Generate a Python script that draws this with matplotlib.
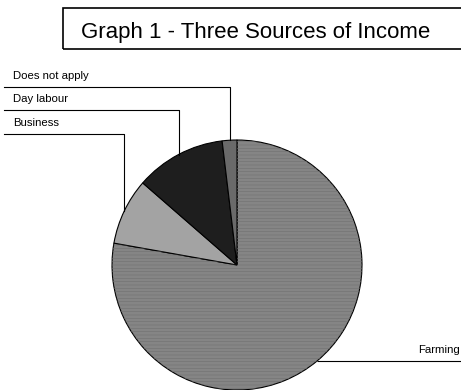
import numpy as np
import matplotlib
matplotlib.use("Agg")
import matplotlib.pyplot as plt
from matplotlib.patches import Rectangle

plt.rcParams['font.family'] = ['Liberation Sans', 'DejaVu Sans']
plt.rcParams['hatch.linewidth'] = 0.4

# pie data (percent)
sources = ['Farming', 'Business', 'Day labour', 'Does not apply']
shares = [77.8, 8.6, 11.7, 1.9]
colors = ['#858585', '#a3a3a3', '#1e1e1e', '#6a6a6a']
title = 'Graph 1 - Three Sources of Income'

W, H = 461, 390
fig = plt.figure(figsize=(W / 100, H / 100), dpi=100)
ax = fig.add_axes([0, 0, 1, 1])

cx, cy, r = 237, H - 265, 125
wedges, _ = ax.pie(shares, colors=colors, startangle=90, counterclock=False,
                   radius=r, center=(cx, cy), frame=True,
                   wedgeprops=dict(edgecolor='black', linewidth=0.8))

# faint horizontal texture on the farming slice only
tex, _ = ax.pie([shares[0], 100 - shares[0]], colors=['none', 'none'],
                startangle=90, counterclock=False, radius=r, center=(cx, cy),
                frame=True,
                wedgeprops=dict(edgecolor='#707070', linewidth=0, hatch='-----'))
tex[1].set_visible(False)

ax.set_xlim(0, W)
ax.set_ylim(0, H)
ax.set_aspect('equal')
ax.axis('off')

# leader lines + labels
label_y = {'Does not apply': H - 87, 'Day labour': H - 110, 'Business': H - 134}
for w, name in zip(wedges, sources):
    mid = np.deg2rad((w.theta1 + w.theta2) / 2)
    px, py = cx + r * np.cos(mid), cy + r * np.sin(mid)
    if name == 'Farming':
        ax.plot([px, W], [py, py], color='black', lw=0.8, solid_capstyle='butt')
        ax.text(W - 1, py + 8, name, fontsize=8.2, ha='right', va='baseline')
    else:
        ly = label_y[name]
        ax.plot([4, px, px], [ly, ly, py], color='black', lw=0.8)
        ax.text(13, ly + 8, name, fontsize=8.2, ha='left', va='baseline')

# title box
ax.add_patch(Rectangle((63, H - 49), 420, 41, fill=False, edgecolor='black',
                       lw=1.2, clip_on=False))
ax.text(256, H - 38, title, fontsize=16, ha='center', va='baseline')

fig.savefig('out.png', dpi=100)
